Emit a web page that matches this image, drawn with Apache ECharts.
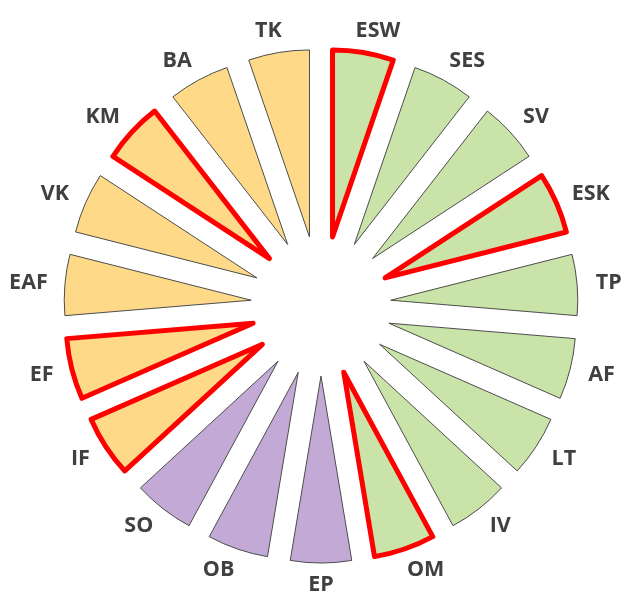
<!DOCTYPE html>
<html>
<head>
<meta charset="utf-8">
<script src="https://cdn.jsdelivr.net/npm/echarts@6/dist/echarts.min.js"></script>
<style>
  html, body { margin: 0; padding: 0; background: #fff; }
  #main { width: 631px; height: 600px; }
</style>
</head>
<body>
<div id="main"></div>
<script>
// clockwise from the top
const categories = ['ESW', 'SES', 'SV', 'ESK', 'TP', 'AF', 'LT', 'IV', 'OM',
  'EP', 'OB', 'SO',
  'IF', 'EF', 'EAF', 'VK', 'KM', 'BA', 'TK'];
// every wedge has the same size
const values = [1, 1, 1, 1, 1, 1, 1, 1, 1, 1, 1, 1, 1, 1, 1, 1, 1, 1, 1];
// g = green, p = purple, y = yellow
const groups = ['g', 'g', 'g', 'g', 'g', 'g', 'g', 'g', 'g',
  'p', 'p', 'p',
  'y', 'y', 'y', 'y', 'y', 'y', 'y'];
const highlighted = ['ESW', 'ESK', 'OM', 'IF', 'EF', 'KM'];

const groupColors = { g: '#c9e3a9', p: '#c3a9d6', y: '#fdd988' };

const center = [321, 306];
const labelFont = { size: 21.5, weight: 'bold', family: 'Open Sans' };

const wedges = categories.map((name, i) => {
  const hot = highlighted.includes(name);
  const style = {
    color: groupColors[groups[i]],
    borderColor: hot ? '#ff0000' : '#4d4d4d',
    borderWidth: hot ? 5 : 1,
    borderJoin: 'round'
  };
  return {
    name: name,
    value: values[i],
    selected: true,
    itemStyle: style,
    select: { itemStyle: style }
  };
});

// push each label box away from the ring a bit, like the original (box edge sits near the ring)
const ctx = document.createElement('canvas').getContext('2d');
ctx.font = labelFont.weight + ' ' + labelFont.size + 'px "' + labelFont.family + '"';
const step = 360 / categories.length;
const clamp = v => Math.max(-1, Math.min(1, v));
const labelRing = categories.map((name, i) => {
  const ang = (90 - (i + 0.5) * step) * Math.PI / 180;
  const ux = Math.cos(ang), uy = -Math.sin(ang);
  const w = ctx.measureText(name).width;
  const dx = 0.75 * w / 2 * clamp(ux * 4);
  const dy = 0.5 * labelFont.size / 2 * clamp(uy * 4);
  return {
    name: name,
    value: values[i],
    label: {
      padding: [Math.max(2 * dy, 0), Math.max(-2 * dx, 0), Math.max(-2 * dy, 0), Math.max(2 * dx, 0)]
    }
  };
});

const chart = echarts.init(document.getElementById('main'));
chart.setOption({
  backgroundColor: '#fff',
  animation: false,
  series: [
    {
      type: 'pie',
      center: center,
      radius: [0, 187],
      startAngle: 90,
      clockwise: true,
      selectedMode: 'multiple',
      selectedOffset: 70,
      silent: true,
      label: { show: false },
      labelLine: { show: false },
      emphasis: { disabled: true },
      data: wedges
    },
    {
      // transparent ring that only carries the category labels
      type: 'pie',
      center: center,
      radius: [256, 296],
      startAngle: 90,
      clockwise: true,
      silent: true,
      itemStyle: { color: 'rgba(0,0,0,0)', borderWidth: 0 },
      label: {
        show: true,
        position: 'inside',
        color: '#404040',
        fontFamily: labelFont.family,
        fontWeight: labelFont.weight,
        fontSize: labelFont.size
      },
      labelLine: { show: false },
      emphasis: { disabled: true },
      data: labelRing
    }
  ]
});
</script>
</body>
</html>
